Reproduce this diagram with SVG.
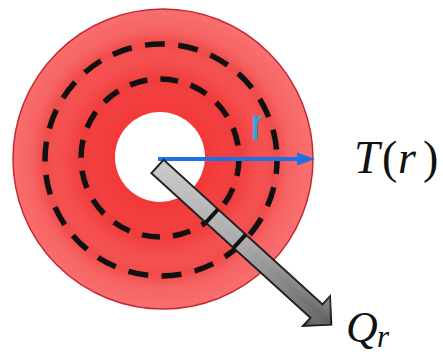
<svg xmlns="http://www.w3.org/2000/svg" width="443" height="360" viewBox="0 0 443 360">
<defs>
<radialGradient id="diskGrad" cx="160" cy="159" r="152" gradientUnits="userSpaceOnUse">
<stop offset="0.3" stop-color="#f33838"/>
<stop offset="0.6" stop-color="#f44a4a"/>
<stop offset="0.85" stop-color="#f76363"/>
<stop offset="1" stop-color="#f87070"/>
</radialGradient>
<linearGradient id="shaftGrad" x1="0" y1="0" x2="235" y2="0" gradientUnits="userSpaceOnUse">
<stop offset="0" stop-color="#c8c8c8"/>
<stop offset="0.5" stop-color="#a8a8a8"/>
<stop offset="1" stop-color="#5e5e5e"/>
</linearGradient>
<linearGradient id="shaftShade" x1="0" y1="-20" x2="0" y2="20" gradientUnits="userSpaceOnUse">
<stop offset="0" stop-color="#ffffff" stop-opacity="0.25"/>
<stop offset="0.5" stop-color="#ffffff" stop-opacity="0"/>
<stop offset="1" stop-color="#000000" stop-opacity="0.25"/>
</linearGradient>
<filter id="blur" x="-20%" y="-20%" width="140%" height="140%">
<feGaussianBlur stdDeviation="4"/>
</filter>
<filter id="soft" x="-20%" y="-20%" width="140%" height="140%">
<feGaussianBlur stdDeviation="0.7"/>
</filter>
<clipPath id="rclip">
<rect x="240" y="100" width="21" height="50"/>
</clipPath>
</defs>
<style>
.dash{fill:none;stroke:#111;stroke-width:5.5}
.glow{fill:none;stroke:#e02020;stroke-width:10;opacity:0.3}
.tick{stroke:#111;stroke-width:4}
.math{font-family:"Liberation Serif","Times New Roman",serif;font-style:italic;fill:#111}
.up{font-style:normal}
</style>

<g id="disk">
<circle cx="163" cy="159" r="150" fill="url(#diskGrad)" stroke="#c92630" stroke-width="1.5"/>
<circle cx="160" cy="159" r="79" class="glow" filter="url(#blur)"/>
<circle cx="160" cy="159" r="116" class="glow" filter="url(#blur)"/>
<circle cx="160" cy="157" r="45" fill="#ffffff" filter="url(#soft)"/>
</g>

<g id="radius-label">
<text x="250" y="140" font-family="Liberation Sans, Arial, sans-serif" font-size="46" fill="#29a6e0" clip-path="url(#rclip)">r</text>
</g>

<g id="isotherms">
<circle cx="160" cy="158" r="79" class="dash" stroke-dasharray="18 13"/>
<circle cx="161" cy="160" r="116" class="dash" stroke-dasharray="20 13.5" stroke-dashoffset="6"/>
</g>

<g id="connectors">
<g id="temperature-arrow">
<line x1="158" y1="159" x2="300" y2="159" stroke="#1f6fe6" stroke-width="4"/>
<polygon points="297,152.5 315,159 297,165.5" fill="#1f6fe6"/>
</g>
<g id="heat-flux-arrow" transform="translate(157.5 166.5) rotate(42.3)">
<polygon points="0,-9 215,-9 215,-20 235,0 215,20 215,9 0,9" fill="url(#shaftGrad)" stroke="#1a1a1a" stroke-width="2" stroke-linejoin="miter"/>
<polygon points="0,-9 215,-9 215,-20 235,0 215,20 215,9 0,9" fill="url(#shaftShade)"/>
<line x1="73.5" y1="-9" x2="73.5" y2="9" class="tick"/>
<line x1="111" y1="-9" x2="111" y2="9" class="tick"/>
</g>
</g>

<g id="label-T">
<text class="math" font-size="46" y="173"><tspan x="354">T</tspan><tspan x="382" class="up">(</tspan><tspan x="398">r</tspan><tspan x="423" class="up">)</tspan></text>
</g>
<g id="label-Q">
<text class="math" font-size="44" x="346" y="342">Q<tspan font-size="31" x="377" y="347">r</tspan></text>
</g>
</svg>
